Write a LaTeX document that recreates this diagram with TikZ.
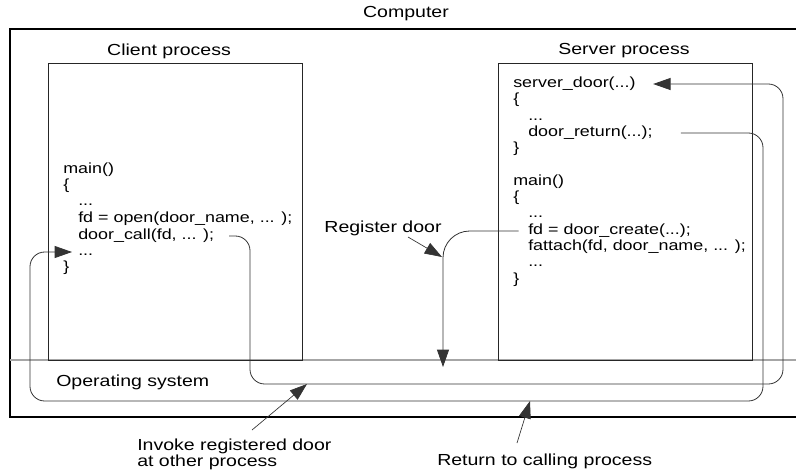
\documentclass[tikz,border=0pt]{standalone}
\usepackage{graphicx}
\usepackage{fontspec}
\setmainfont{Liberation Sans}
\usetikzlibrary{arrows.meta}
\newcommand{\stx}[1]{\scalebox{1.22}[1]{#1}}
\begin{document}
\begin{tikzpicture}[x=0.75pt,y=-0.75pt,
  lbl/.style={font=\fontsize{12}{14}\selectfont, inner sep=0pt},
  code/.style={font=\fontsize{11}{13}\selectfont, inner sep=0pt, anchor=west, text height=8pt, text depth=2.5pt},
  conn/.style={draw=black!80, line width=0.6pt},
  tip/.style={-{Triangle[length=13pt,width=9pt]}},
  ptr/.style={draw=black!80, line width=0.5pt, tip},
  procbox/.style={draw=black!85, line width=0.7pt, inner sep=0pt, anchor=north west, minimum width=190.5pt, minimum height=222.75pt},
]
\useasboundingbox (0,0) rectangle (796,472);
% computer frame and OS line
\draw[line width=1.8pt] (796,29) -- (10,29) -- (10,417) -- (796,417);
\draw[gray!70, line width=0.8pt] (10,360) -- (796,360);
% process boxes
\node[procbox] (client) at (48,63) {};
\node[procbox] (server) at (498,63) {};
% labels
\node[lbl] (computer) at (406,14) {\stx{Computer}};
\node[lbl] (clientlbl) at (169,51) {\stx{Client process}};
\node[lbl] (serverlbl) at (624,51) {\stx{Server process}};
\node[lbl] (reglbl) at (383,228) {\stx{Register door}};
\node[lbl, anchor=west] (oslbl) at (56,382) {\stx{Operating system}};
\node[lbl, anchor=west] (inv1) at (137,446) {\stx{Invoke registered door}};
\node[lbl, anchor=west] (inv2) at (137,462) {\stx{at other process}};
\node[lbl, anchor=west] (retlbl) at (437,461) {\stx{Return to calling process}};
% client code
\node[code] (c1) at (63,170) {\stx{main()}};
\node[code] (c2) at (63,186) {\stx{\{}};
\node[code] (c3) at (78,202) {\stx{...}};
\node[code] (c4) at (78,219) {\stx{fd = open(door\_name, ... );}};
\node[code] (c5) at (78,236) {\stx{door\_call(fd, ... );}};
\node[code] (c6) at (78,252) {\stx{...}};
\node[code] (c7) at (63,268) {\stx{\}}};
% server code
\node[code] (s1) at (513,84) {\stx{server\_door(...)}};
\node[code] (s2) at (513,100) {\stx{\{}};
\node[code] (s3) at (528,117) {\stx{...}};
\node[code] (s4) at (528,133) {\stx{door\_return(...);}};
\node[code] (s5) at (513,149) {\stx{\}}};
\node[code] (s6) at (513,182) {\stx{main()}};
\node[code] (s7) at (513,198) {\stx{\{}};
\node[code] (s8) at (528,214) {\stx{...}};
\node[code] (s9) at (528,231) {\stx{fd = door\_create(...);}};
\node[code] (s10) at (528,247) {\stx{fattach(fd, door\_name, ... );}};
\node[code] (s11) at (528,263) {\stx{...}};
\node[code] (s12) at (513,280) {\stx{\}}};
% invoke path
\coordinate (a1) at (250,384);
\coordinate (a2) at (783,384);
\draw[conn, tip, rounded corners=11pt] ([xshift=11pt]c5.east) -| (a1) -- (a2) |- ([xshift=13pt]s1.east);
% return path
\coordinate (b1) at (763,401);
\coordinate (b2) at (30,401);
\draw[conn, tip, rounded corners=11pt] ([xshift=21pt]s4.east) -| (b1) -- (b2) |- ([xshift=-4.5pt]c6.west);
% register path
\coordinate (r1) at (443,367);
\draw[conn, tip, rounded corners=20pt] ([xshift=-7pt]s9.west) -| (r1);
% pointers
\coordinate (pr0) at (408,237);
\coordinate (pr1) at (442,257);
\draw[ptr] (pr0) -- (pr1);
\coordinate (pi0) at (252,430);
\coordinate (pi1) at (307,384);
\draw[ptr] (pi0) -- (pi1);
\coordinate (pt0) at (517,443);
\coordinate (pt1) at (530,401);
\draw[ptr] (pt0) -- (pt1);
\end{tikzpicture}
\end{document}
